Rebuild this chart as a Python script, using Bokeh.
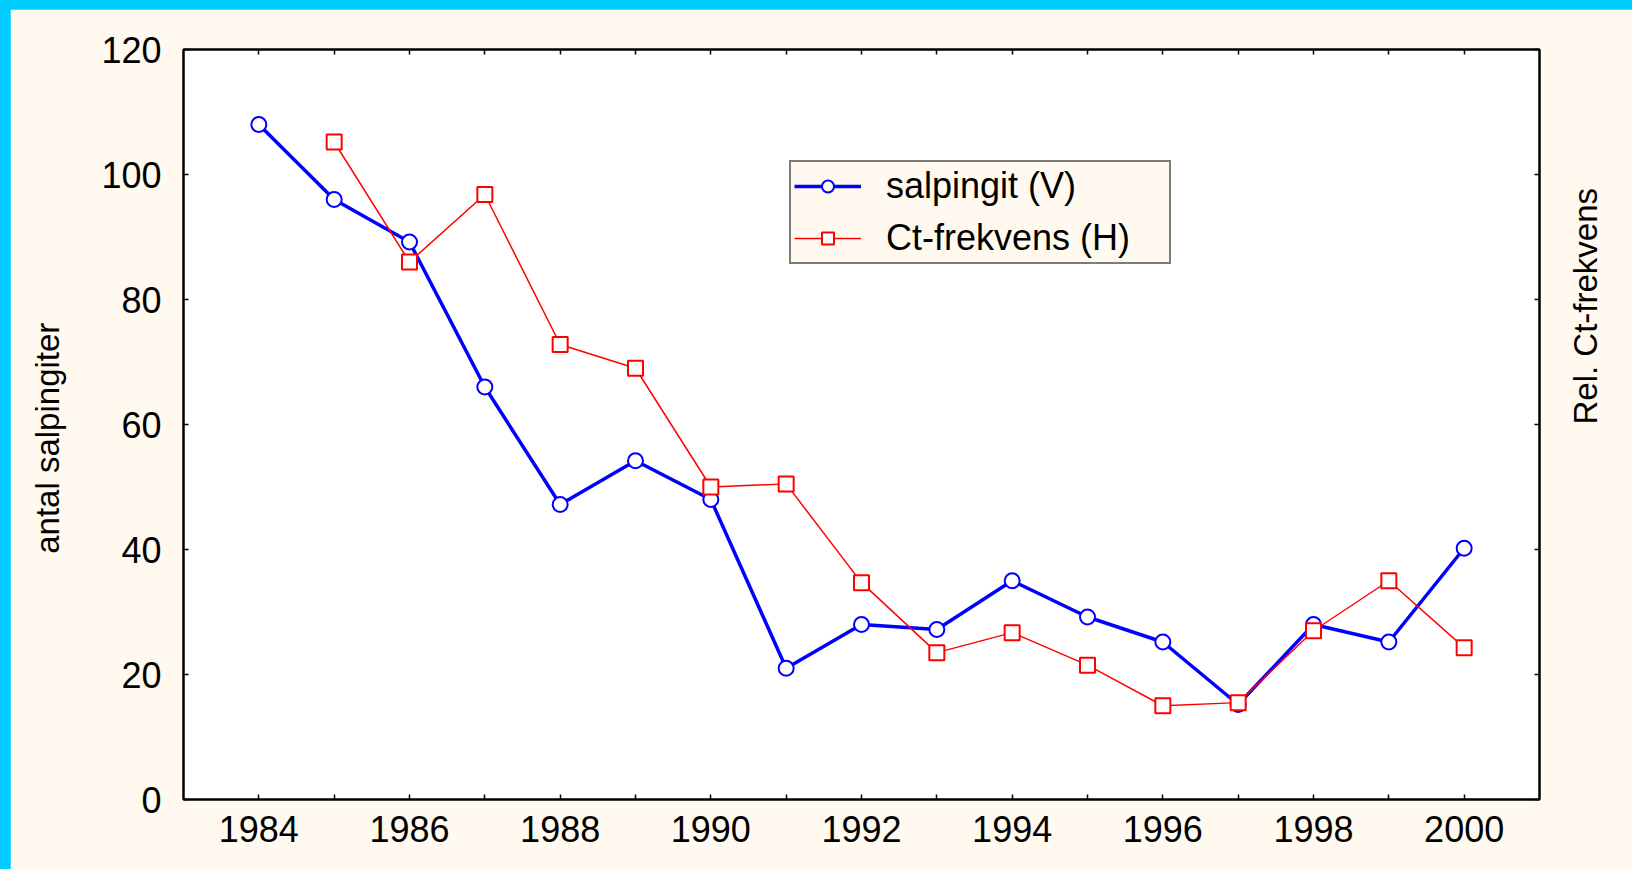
import math
from bokeh.plotting import figure
from bokeh.models import Range1d, LinearAxis, FixedTicker
from bokeh.embed import file_html
from bokeh.resources import INLINE

years_salp = [1984, 1985, 1986, 1987, 1988, 1989, 1990, 1991, 1992, 1993, 1994, 1995, 1996, 1997, 1998, 1999, 2000]
salpingit = [108, 96, 89.2, 66, 47.2, 54.2, 48, 21, 28, 27.2, 35, 29.2, 25.2, 15.2, 28, 25.2, 40.2]

years_ct = [1985, 1986, 1987, 1988, 1989, 1990, 1991, 1992, 1993, 1994, 1995, 1996, 1997, 1998, 1999, 2000]
ct_frekvens = [105.2, 86, 96.8, 72.8, 69, 50, 50.5, 34.7, 23.5, 26.7, 21.5, 15, 15.5, 27, 35, 24.3]

x_ticks = list(range(1984, 2001))
x_labels = {y: (str(y) if y % 2 == 0 else "") for y in x_ticks}
y_ticks = [0, 20, 40, 60, 80, 100, 120]
left_title = "antal salpingiter"
right_title = "Rel. Ct-frekvens"

FONT = "Liberation Sans"
CREAM = "#FFF9EF"
NBSP = "\u00a0"

p = figure(width=1622, height=860, output_backend="svg", toolbar_location=None,
           x_range=Range1d(1983, 2001), y_range=Range1d(0, 120),
           min_border_left=173, min_border_right=93, min_border_top=40, min_border_bottom=70,
           background_fill_color="white", border_fill_color=CREAM)
p.extra_y_ranges = {"right": Range1d(0, 120)}
p.grid.visible = False
p.outline_line_color = "black"
p.outline_line_width = 2

def style_axis(ax):
    ax.axis_line_color = "black"
    ax.axis_line_width = 2
    ax.major_tick_in = 5
    ax.major_tick_out = 0
    ax.minor_tick_in = 0
    ax.minor_tick_out = 0
    ax.major_tick_line_width = 1.5
    ax.major_label_text_font = FONT
    ax.major_label_text_font_size = "36px"
    ax.major_label_text_color = "black"
    ax.axis_label_text_font = FONT
    ax.axis_label_text_font_style = "normal"
    ax.axis_label_text_font_size = "33px"
    ax.axis_label_text_color = "black"

xa = p.xaxis[0]
xa.ticker = FixedTicker(ticks=x_ticks)
xa.major_label_overrides = x_labels
style_axis(xa)
xa.major_label_standoff = 16

ya = p.yaxis[0]
ya.ticker = FixedTicker(ticks=y_ticks)
style_axis(ya)
ya.major_label_standoff = 22
ya.axis_label = left_title + NBSP * 3
ya.axis_label_standoff = 32

ra = LinearAxis(y_range_name="right", ticker=FixedTicker(ticks=y_ticks))
style_axis(ra)
ra.major_label_overrides = {t: "" for t in y_ticks}
ra.major_label_standoff = 0
ra.axis_label = right_title + NBSP * 4
ra.axis_label_orientation = math.pi / 2
ra.axis_label_text_align = "center"
ra.axis_label_standoff = 46
p.add_layout(ra, "right")

ta = LinearAxis(ticker=FixedTicker(ticks=x_ticks))
style_axis(ta)
ta.major_label_overrides = {t: "" for t in x_ticks}
ta.major_label_standoff = 0
p.add_layout(ta, "above")

p.line(years_salp, salpingit, line_color="#0000FF", line_width=3.5, legend_label="salpingit (V)")
p.scatter(years_salp, salpingit, marker="circle", size=15, line_color="#0000FF", line_width=2,
          fill_color="white", legend_label="salpingit (V)")

p.line(years_ct, ct_frekvens, line_color="#FF0000", line_width=1.5, y_range_name="right",
       legend_label="Ct-frekvens (H)")
p.scatter(years_ct, ct_frekvens, marker="square", size=15, line_color="#FF0000", line_width=2,
          fill_color="white", y_range_name="right", legend_label="Ct-frekvens (H)")

lg = p.legend[0]
lg.location = (606, 535)
lg.border_line_color = "black"
lg.border_line_width = 2
lg.background_fill_color = CREAM
lg.background_fill_alpha = 1
lg.label_text_font = FONT
lg.label_text_font_size = "36px"
lg.label_text_color = "black"
lg.glyph_width = 67
lg.glyph_height = 30
lg.label_standoff = 25
lg.padding = 3
lg.spacing = 10
lg.margin = 0
lg.label_width = 280

html = file_html(p, INLINE)
html = html.replace("</head>", "<style>html,body{margin:0 !important;padding:0 !important;"
                    "background:#00CCFF !important;overflow:hidden !important}"
                    "body{padding:9px 0 0 10px !important}</style></head>", 1)
open("out.html", "w").write(html)
